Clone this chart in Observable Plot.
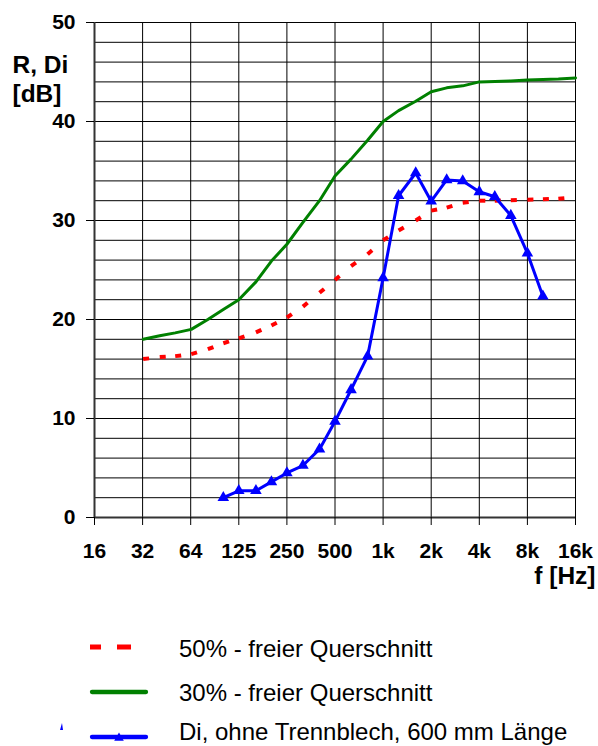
<!DOCTYPE html>
<html>
<head>
<meta charset="utf-8">
<script src="https://cdn.jsdelivr.net/npm/d3@7"></script>
<script src="https://cdn.jsdelivr.net/npm/@observablehq/plot@0.6"></script>
<style>
  html, body { margin: 0; padding: 0; background: #fff; }
  #wrap { position: relative; width: 598px; height: 746px; overflow: hidden;
          font-family: "Liberation Sans", Arial, sans-serif; }
  #chart { position: absolute; left: 0; top: 0; }
  #legend { position: absolute; left: 0; top: 620px; }
</style>
</head>
<body>
<div id="wrap">
  <div id="chart"></div>
  <svg id="legend" width="598" height="126"></svg>
</div>
<script>
// ---- Data ----
const xTicks = [15.625, 31.25, 62.5, 125, 250, 500, 1000, 2000, 4000, 8000, 16000];
const xTickLabels = ["16", "32", "64", "125", "250", "500", "1k", "2k", "4k", "8k", "16k"];
const yTicks = [0, 10, 20, 30, 40, 50];
const yGrid = [0, 2, 4, 6, 8, 10, 12, 14, 16, 18, 20, 22, 24, 26, 28, 30, 32, 34, 36, 38, 40, 42, 44, 46, 48, 50];

// 1/3-octave frequencies for the two R curves
const freqs = [31.5, 40, 50, 63, 80, 100, 125, 160, 200, 250, 315, 400, 500, 630, 800,
               1000, 1250, 1600, 2000, 2500, 3150, 4000, 5000, 6300, 8000, 10000, 12500, 16000];
// 50% - freier Querschnitt (red dashed)
const free50 = [16.0, 16.2, 16.3, 16.5, 17.0, 17.6, 18.1, 18.7, 19.4, 20.2, 21.3, 22.7, 24.0, 25.4, 26.6,
                28.0, 29.0, 30.0, 31.0, 31.3, 31.8, 32.0, 32.0, 32.05, 32.1, 32.15, 32.2, 32.35];
// 30% - freier Querschnitt (green)
const free30 = [18.0, 18.35, 18.65, 19.0, 20.0, 21.0, 22.0, 23.8, 25.9, 27.6, 29.8, 32.0, 34.5, 36.2, 38.1,
                40.0, 41.1, 42.05, 43.0, 43.4, 43.6, 44.0, 44.05, 44.1, 44.2, 44.25, 44.3, 44.4];
// Di, ohne Trennblech, 600 mm Länge (blue, triangles)
const diFreqs = [100, 125, 160, 200, 250, 315, 400, 500, 630, 800, 1000, 1250, 1600, 2000, 2500,
                 3150, 4000, 5000, 6300, 8000, 10000];
const diValues = [2.0, 2.7, 2.7, 3.6, 4.5, 5.25, 6.9, 9.7, 12.9, 16.3, 24.2, 32.5, 34.8, 31.95, 34.1,
                  34.0, 32.9, 32.4, 30.5, 26.7, 22.35];

const seriesNames = ["50% - freier Querschnitt", "30% - freier Querschnitt", "Di, ohne Trennblech, 600 mm Länge"];

// ---- Build tables ----
const red = freqs.map((f, i) => ({f, v: free50[i]}));
const green = freqs.map((f, i) => ({f, v: free30[i]}));
const blue = diFreqs.map((f, i) => ({f, v: diValues[i]}));
const redPairs = d3.pairs(red);

const font = "Liberation Sans, Arial, sans-serif";

const chart = Plot.plot({
  width: 598,
  height: 600,
  marginLeft: 94,
  marginRight: 23,
  marginTop: 22,
  marginBottom: 83,
  style: {fontFamily: font, fontSize: "21px", fontWeight: "bold", background: "#fff", overflow: "visible", color: "#000"},
  x: {type: "log", base: 2, domain: [15.625, 16000], label: null},
  y: {domain: [0, 50], label: null},
  marks: [
    Plot.ruleY(yGrid, {stroke: "#000", strokeWidth: 1}),
    Plot.ruleX(xTicks, {stroke: "#000", strokeWidth: 1}),
    Plot.ruleX([15.625], {stroke: "#333", strokeWidth: 2}),
    Plot.ruleY([0], {stroke: "#333", strokeWidth: 2}),
    Plot.axisY({ticks: yTicks, tickSize: 8, tickPadding: 11, fontSize: 21, fontWeight: "bold", label: null}),
    Plot.axisX({ticks: xTicks, tickSize: 8, tickPadding: 18, fontSize: 21, fontWeight: "bold", label: null,
                tickFormat: d => xTickLabels[xTicks.indexOf(d)]}),
    Plot.text(["R, Di"], {frameAnchor: "top-left", dx: -82, dy: 50, textAnchor: "start", lineAnchor: "bottom",
                          fontSize: 24.5, fontWeight: "bold", fill: "#000"}),
    Plot.text(["[dB]"], {frameAnchor: "top-left", dx: -82, dy: 79, textAnchor: "start", lineAnchor: "bottom",
                         fontSize: 24.5, fontWeight: "bold", fill: "#000"}),
    Plot.text(["f [Hz]"], {frameAnchor: "bottom-right", dx: 20, dy: 66, textAnchor: "end", lineAnchor: "bottom",
                           fontSize: 24.5, fontWeight: "bold", fill: "#000"}),
    Plot.link(redPairs, {x1: d => d[0].f, y1: d => d[0].v, x2: d => d[1].f, y2: d => d[1].v,
                         stroke: "#ff0000", strokeWidth: 4, strokeDasharray: "6,300"}),
    Plot.line(green, {x: "f", y: "v", stroke: "#008000", strokeWidth: 3}),
    Plot.line(blue, {x: "f", y: "v", stroke: "#0000ff", strokeWidth: 3}),
    Plot.dot(blue, {x: "f", y: "v", symbol: "triangle", r: 4.3, fill: "#0000ff", stroke: "none"})
  ]
});
document.getElementById("chart").appendChild(chart);

// ---- Legend ----
const lg = d3.select("#legend");
const rows = [{line: 27, base: 37}, {line: 72, base: 81}, {line: 117, base: 120}];
// red dashed sample
lg.append("line").attr("x1", 90).attr("x2", 131).attr("y1", rows[0].line).attr("y2", rows[0].line)
  .attr("stroke", "#ff0000").attr("stroke-width", 5).attr("stroke-dasharray", "11,16,14,100");
// green sample
lg.append("line").attr("x1", 92).attr("x2", 146).attr("y1", rows[1].line).attr("y2", rows[1].line)
  .attr("stroke", "#008000").attr("stroke-width", 4.3).attr("stroke-linecap", "round");
// blue sample
lg.append("line").attr("x1", 92).attr("x2", 146).attr("y1", rows[2].line).attr("y2", rows[2].line)
  .attr("stroke", "#0000ff").attr("stroke-width", 4.3).attr("stroke-linecap", "round");
lg.append("path").attr("d", d3.symbol(d3.symbolTriangle, 40)()).attr("fill", "#0000ff")
  .attr("transform", `translate(119,${rows[2].line + 1})`);
lg.append("path").attr("d", "M60,110 L62,103 L63,110 Z").attr("fill", "#0000ff");
seriesNames.forEach((name, i) => {
  lg.append("text").attr("x", 179).attr("y", rows[i].base).text(name)
    .attr("font-family", font).attr("font-size", 24).attr("fill", "#000");
});
</script>
</body>
</html>
